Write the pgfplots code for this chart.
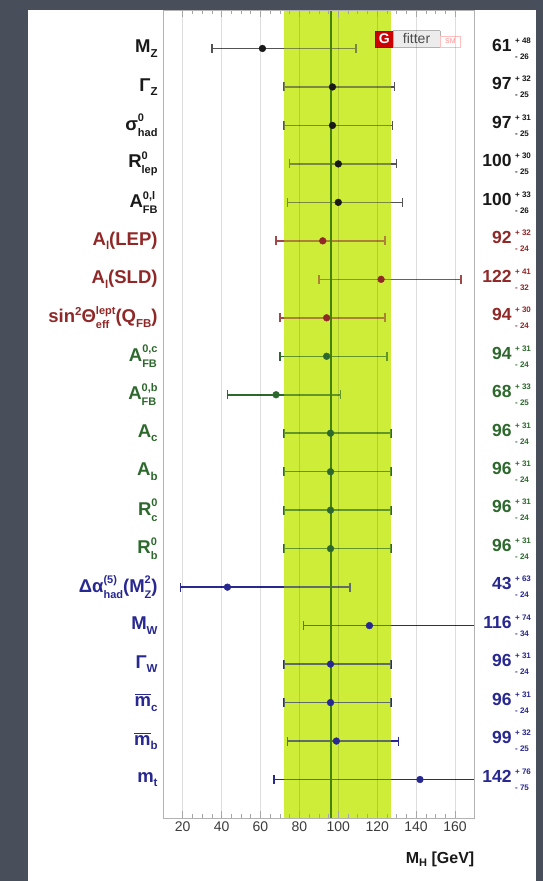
\documentclass[border=0pt]{standalone}
\usepackage{pgfplots}
\pgfplotsset{compat=1.18}
\usepackage{amsmath}
\usepackage{fontspec}
\setmainfont{Liberation Sans}
\definecolor{bgdark}{RGB}{72,78,90}
\definecolor{bandc}{RGB}{198,236,28}
\definecolor{cline}{RGB}{70,130,10}
\definecolor{cblk}{RGB}{25,25,25}
\definecolor{cred}{RGB}{145,40,40}
\definecolor{cgrn}{RGB}{45,105,45}
\definecolor{cblu}{RGB}{40,40,145}
\definecolor{tickc}{RGB}{60,60,60}
\newcommand{\ssub}[1]{\raisebox{-4.5pt}{\fontsize{11.5}{12}\selectfont #1}}
\newcommand{\ssup}[1]{\raisebox{7.5pt}{\fontsize{11.5}{12}\selectfont #1}}
\newcommand{\ssp}[2]{\setbox0\hbox{\fontsize{11}{12}\selectfont #1}\setbox2\hbox{\fontsize{11}{12}\selectfont #2}%
  \ifdim\wd0>\wd2 \rlap{\raisebox{-6pt}{\box2}}\raisebox{8.5pt}{\box0}\else\rlap{\raisebox{8.5pt}{\box0}}\raisebox{-6pt}{\box2}\fi}
\newcommand{\val}[3]{\makebox[28pt][r]{#1}\hspace{3.5pt}{\fontsize{8}{9}\selectfont\rlap{\raisebox{8pt}{+ #2}}\raisebox{-8pt}{- #3}}}
\begin{document}
\begin{tikzpicture}
\useasboundingbox (0,0) rectangle (543pt,881pt);
\fill[bgdark] (0,0) rectangle (543pt,881pt);
\fill[white] (28pt,0) rectangle (536pt,871pt);
\begin{axis}[
  at={(163.25pt,63pt)}, anchor=south west,
  scale only axis, width=311.2pt, height=808pt,
  xmin=10, xmax=170, ymin=0, ymax=21,
  axis on top,
  xtick={20,40,...,160}, minor x tick num=3,
  xmajorgrids, grid style={black, opacity=0.13, line width=0.9pt},
  axis line style={gray!60},
  x tick style={gray!70, line width=0.6pt},
  major tick length=7pt, minor tick length=4pt,
  xticklabel style={font=\fontsize{14}{16}\selectfont, text=tickc},
  /pgf/number format/assume math mode=true,
  ytick={1,...,20},
  ytick style={draw=none},
  yticklabel style={inner sep=0pt, xshift=-5.5pt, font=\fontsize{18.5}{20}\selectfont\bfseries},
  yticklabels={
    {\textcolor{cblu}{m\ssub{t}}},
    {\textcolor{cblu}{$\overline{\text{m}}$\ssub{b}}},
    {\textcolor{cblu}{$\overline{\text{m}}$\ssub{c}}},
    {\textcolor{cblu}{Γ\ssub{W}}},
    {\textcolor{cblu}{M\ssub{W}}},
    {\textcolor{cblu}{Δα\ssp{(5)}{had}(M\ssp{2}{Z})}},
    {\textcolor{cgrn}{R\ssp{0}{b}}},
    {\textcolor{cgrn}{R\ssp{0}{c}}},
    {\textcolor{cgrn}{A\ssub{b}}},
    {\textcolor{cgrn}{A\ssub{c}}},
    {\textcolor{cgrn}{A\ssp{0,b}{FB}}},
    {\textcolor{cgrn}{A\ssp{0,c}{FB}}},
    {\textcolor{cred}{sin\ssup{2}Θ\ssp{lept}{eff}(Q\ssub{FB})}},
    {\textcolor{cred}{A\ssub{l}(SLD)}},
    {\textcolor{cred}{A\ssub{l}(LEP)}},
    {\textcolor{cblk}{A\ssp{0,l}{FB}}},
    {\textcolor{cblk}{R\ssp{0}{lep}}},
    {\textcolor{cblk}{σ\ssp{0}{had}}},
    {\textcolor{cblk}{Γ\ssub{Z}}},
    {\textcolor{cblk}{M\ssub{Z}}}
  },
  xlabel={M\raisebox{-3pt}{\fontsize{11}{11}\selectfont H} [GeV]},
  xlabel style={at={(axis description cs:1,0)}, anchor=north east, inner sep=0pt, yshift=-34pt, font=\fontsize{16}{18}\selectfont\bfseries, text=cblk},
]
% band (base)
\addplot[draw=none, fill=bandc, fill opacity=0.8] coordinates {(72,0) (72,21) (127,21) (127,0)};
% black group
\addplot[only marks, mark=*, mark size=3.4pt, color=cblk,
  error bars/.cd, x dir=both, x explicit, error mark=|,
  error bar style={line width=1.5pt, cblk!75},
  error mark options={mark size=4.5pt, line width=1.4pt, cblk!75}]
  table[x=x, y=y, x error plus=ep, x error minus=em] {
y x ep em
20 61 48 26
19 97 32 25
18 97 31 25
17 100 30 25
16 100 33 26
};
% red group
\addplot[only marks, mark=*, mark size=3.4pt, color=cred,
  error bars/.cd, x dir=both, x explicit, error mark=|,
  error bar style={line width=1.5pt, cred!85},
  error mark options={mark size=4.5pt, line width=1.4pt, cred!85}]
  table[x=x, y=y, x error plus=ep, x error minus=em] {
y x ep em
15 92 32 24
14 122 41 32
13 94 30 24
};
% green group
\addplot[only marks, mark=*, mark size=3.4pt, color=cgrn,
  error bars/.cd, x dir=both, x explicit, error mark=|,
  error bar style={line width=1.5pt, cgrn},
  error mark options={mark size=4.5pt, line width=1.4pt, cgrn}]
  table[x=x, y=y, x error plus=ep, x error minus=em] {
y x ep em
12 94 31 24
11 68 33 25
10 96 31 24
9 96 31 24
8 96 31 24
7 96 31 24
};
% blue group
\addplot[only marks, mark=*, mark size=3.4pt, color=cblu,
  error bars/.cd, x dir=both, x explicit, error mark=|,
  error bar style={line width=1.5pt, cblu},
  error mark options={mark size=4.5pt, line width=1.4pt, cblu}]
  table[x=x, y=y, x error plus=ep, x error minus=em] {
y x ep em
6 43 63 24
5 116 74 34
4 96 31 24
3 96 31 24
2 99 32 25
1 142 76 75
};
% band overlay (tint)
\addplot[draw=none, fill=bandc, fill opacity=0.35] coordinates {(72,0) (72,21) (127,21) (127,0)};
% central value
\addplot[cline, line width=2pt] coordinates {(96,0) (96,21)};
% logo
\node[anchor=west, inner sep=0pt] at (axis cs:119,20.25) {%
  \setlength{\fboxsep}{3pt}%
  \fcolorbox{red!70!black}{red!80!black}{\fontsize{14}{14}\selectfont\bfseries\textcolor{white}{G}}%
  \fcolorbox{gray!60}{gray!15}{\makebox[40pt]{\fontsize{14}{14}\selectfont\textcolor{gray!60!black}{fitter}}}%
  \fcolorbox{red!25}{white}{\makebox[14pt]{\fontsize{7}{14}\selectfont\textcolor{red!45}{SM}}}};
\end{axis}
\begin{axis}[
  at={(163.25pt,63pt)}, anchor=south west,
  scale only axis, width=311.2pt, height=808pt,
  xmin=10, xmax=170, ymin=0, ymax=21,
  hide x axis, axis line style={draw=none},
  ytick={1,...,20}, ytick style={draw=none},
  yticklabel pos=right,
  yticklabel style={anchor=west, inner sep=0pt, xshift=9pt, font=\fontsize{17.5}{19}\selectfont\bfseries},
  yticklabels={
    {\textcolor{cblu}{\val{142}{76}{75}}},
    {\textcolor{cblu}{\val{99}{32}{25}}},
    {\textcolor{cblu}{\val{96}{31}{24}}},
    {\textcolor{cblu}{\val{96}{31}{24}}},
    {\textcolor{cblu}{\val{116}{74}{34}}},
    {\textcolor{cblu}{\val{43}{63}{24}}},
    {\textcolor{cgrn}{\val{96}{31}{24}}},
    {\textcolor{cgrn}{\val{96}{31}{24}}},
    {\textcolor{cgrn}{\val{96}{31}{24}}},
    {\textcolor{cgrn}{\val{96}{31}{24}}},
    {\textcolor{cgrn}{\val{68}{33}{25}}},
    {\textcolor{cgrn}{\val{94}{31}{24}}},
    {\textcolor{cred}{\val{94}{30}{24}}},
    {\textcolor{cred}{\val{122}{41}{32}}},
    {\textcolor{cred}{\val{92}{32}{24}}},
    {\textcolor{cblk}{\val{100}{33}{26}}},
    {\textcolor{cblk}{\val{100}{30}{25}}},
    {\textcolor{cblk}{\val{97}{31}{25}}},
    {\textcolor{cblk}{\val{97}{32}{25}}},
    {\textcolor{cblk}{\val{61}{48}{26}}}
  },
]
\end{axis}
\fill[bgdark] (536pt,0) rectangle (543pt,881pt);
\fill[bgdark] (0,871pt) rectangle (543pt,881pt);
\end{tikzpicture}
\end{document}
